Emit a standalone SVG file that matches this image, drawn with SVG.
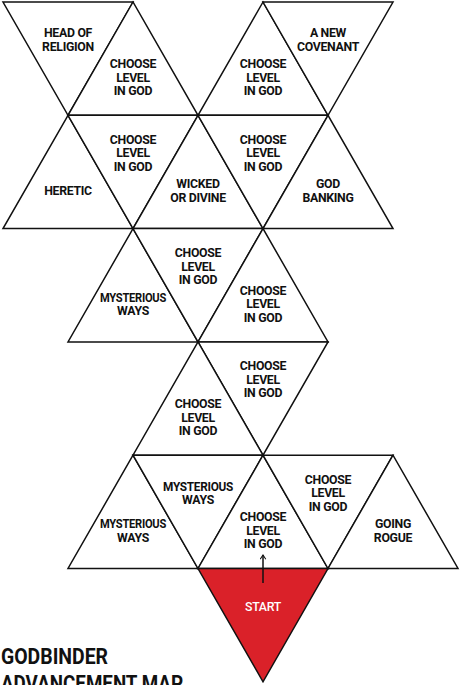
<svg xmlns="http://www.w3.org/2000/svg" width="463" height="685" viewBox="0 0 463 685">
<style>
.t{fill:#fff;stroke:#111;stroke-width:1.5;stroke-linejoin:miter}
.s{fill:#da2129;stroke:#111;stroke-width:1.5}
text{font-family:Roboto,"Liberation Sans",sans-serif;font-weight:700;font-size:12.3px;fill:#111;text-anchor:middle;letter-spacing:-0.3px}
.w{fill:#fff;font-weight:500}
.title{font-size:22px;text-anchor:start;letter-spacing:0}
.c{stroke:#111;stroke-width:1.5;fill:none}
</style>
<defs>
<marker id="ah" viewBox="0 0 10 10" refX="8" refY="5" markerWidth="7" markerHeight="7" orient="auto" markerUnits="userSpaceOnUse">
<path d="M2,1 L8,5 L2,9" fill="none" stroke="#111" stroke-width="1.5"/>
</marker>
</defs>
<rect width="463" height="685" fill="#fff"/>
<g id="n1"><polygon class="t" points="3,2 133,2 68,115.3"/><text x="68" y="37.3">HEAD OF</text><text x="68" y="50.8">RELIGION</text></g>
<g id="n2"><polygon class="t" points="133,2 68,115.3 198,115.3"/><text x="133" y="68.2">CHOOSE</text><text x="133" y="81.7">LEVEL</text><text x="133" y="95.2">IN GOD</text></g>
<g id="n3"><polygon class="t" points="263,2 198,115.3 328,115.3"/><text x="263" y="68.2">CHOOSE</text><text x="263" y="81.7">LEVEL</text><text x="263" y="95.2">IN GOD</text></g>
<g id="n4"><polygon class="t" points="263,2 393,2 328,115.3"/><text x="328" y="37.3">A NEW</text><text x="328" y="50.8">COVENANT</text></g>
<g id="n5"><polygon class="t" points="68,115.3 3,228.6 133,228.6"/><text x="68" y="195">HERETIC</text></g>
<g id="n6"><polygon class="t" points="68,115.3 198,115.3 133,228.6"/><text x="133" y="143.8">CHOOSE</text><text x="133" y="157.3">LEVEL</text><text x="133" y="170.8">IN GOD</text></g>
<g id="n7"><polygon class="t" points="198,115.3 133,228.6 263,228.6"/><text x="198" y="188.3">WICKED</text><text x="198" y="201.8">OR DIVINE</text></g>
<g id="n8"><polygon class="t" points="198,115.3 328,115.3 263,228.6"/><text x="263" y="143.8">CHOOSE</text><text x="263" y="157.3">LEVEL</text><text x="263" y="170.8">IN GOD</text></g>
<g id="n9"><polygon class="t" points="328,115.3 263,228.6 393,228.6"/><text x="328" y="188.3">GOD</text><text x="328" y="201.8">BANKING</text></g>
<g id="n10"><polygon class="t" points="133,228.6 68,341.9 198,341.9"/><text x="133" y="301.6" textLength="66" lengthAdjust="spacingAndGlyphs">MYSTERIOUS</text><text x="133" y="315.1">WAYS</text></g>
<g id="n11"><polygon class="t" points="133,228.6 263,228.6 198,341.9"/><text x="198" y="257.1">CHOOSE</text><text x="198" y="270.6">LEVEL</text><text x="198" y="284.1">IN GOD</text></g>
<g id="n12"><polygon class="t" points="263,228.6 198,341.9 328,341.9"/><text x="263" y="294.8">CHOOSE</text><text x="263" y="308.3">LEVEL</text><text x="263" y="321.8">IN GOD</text></g>
<g id="n13"><polygon class="t" points="198,341.9 328,341.9 263,455.2"/><text x="263" y="370.4">CHOOSE</text><text x="263" y="383.9">LEVEL</text><text x="263" y="397.4">IN GOD</text></g>
<g id="n14"><polygon class="t" points="198,341.9 133,455.2 263,455.2"/><text x="198" y="408.1">CHOOSE</text><text x="198" y="421.6">LEVEL</text><text x="198" y="435.1">IN GOD</text></g>
<g id="n15"><polygon class="t" points="133,455.2 68,568.5 198,568.5"/><text x="133" y="528.2" textLength="66" lengthAdjust="spacingAndGlyphs">MYSTERIOUS</text><text x="133" y="541.7">WAYS</text></g>
<g id="n16"><polygon class="t" points="133,455.2 263,455.2 198,568.5"/><text x="198" y="490.5" textLength="70" lengthAdjust="spacingAndGlyphs">MYSTERIOUS</text><text x="198" y="504">WAYS</text></g>
<g id="n17"><polygon class="t" points="263,455.2 198,568.5 328,568.5"/><text x="263" y="521.4">CHOOSE</text><text x="263" y="534.9">LEVEL</text><text x="263" y="548.4">IN GOD</text></g>
<g id="n18"><polygon class="t" points="263,455.2 393,455.2 328,568.5"/><text x="328" y="483.7">CHOOSE</text><text x="328" y="497.2">LEVEL</text><text x="328" y="510.7">IN GOD</text></g>
<g id="n19"><polygon class="t" points="393,455.2 328,568.5 458,568.5"/><text x="393" y="528.2">GOING</text><text x="393" y="541.7">ROGUE</text></g>
<g id="start"><polygon class="s" points="198,568.5 328,568.5 263,681.8"/><text class="w" x="263" y="610.5">START</text></g>
<g id="connectors"><line class="c" x1="263" y1="583" x2="263" y2="555" marker-end="url(#ah)"/></g>
<g id="title"><text class="title" x="1" y="664" textLength="107" lengthAdjust="spacingAndGlyphs">GODBINDER</text><text class="title" x="1" y="691" textLength="182" lengthAdjust="spacingAndGlyphs">ADVANCEMENT MAP</text></g>
</svg>
